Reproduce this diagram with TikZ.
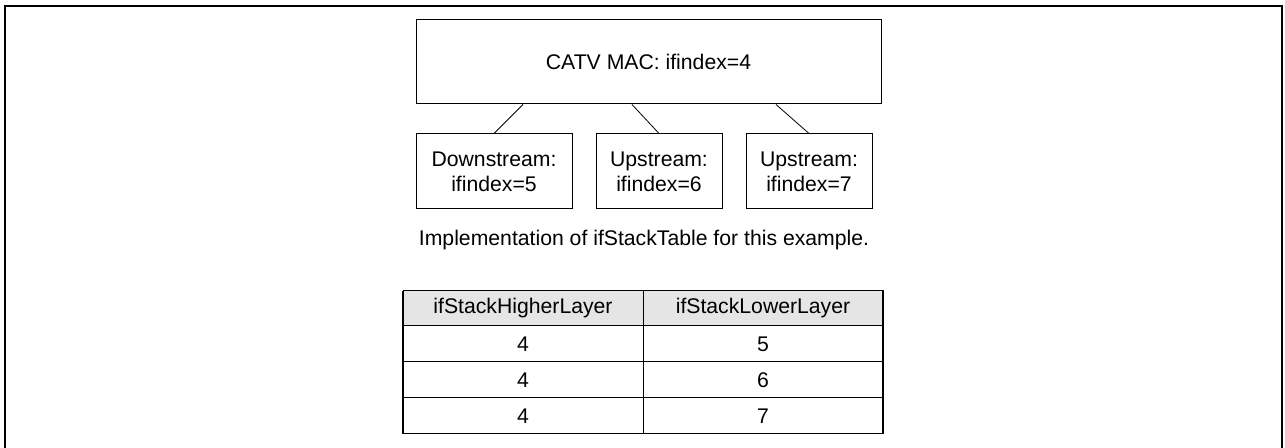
\documentclass[tikz,border=0pt]{standalone}
\usepackage{fontspec}
\setmainfont{Liberation Sans}
\usetikzlibrary{positioning}
\definecolor{hdrgray}{RGB}{229,229,229}

\begin{document}
\begin{tikzpicture}[
    x=0.5pt, y=-0.5pt,
    font=\fontsize{10.6}{12.5}\selectfont,
    ifbox/.style={draw, line width=0.5pt, align=center, inner sep=0pt},
    cell/.style={draw, line width=0.5pt, minimum width=120pt, minimum height=18pt,
        inner sep=0pt, outer sep=0pt},
    hdrcell/.style={cell, fill=hdrgray, minimum height=17.5pt},
    frameline/.style={line width=1pt}
    ]
    \useasboundingbox (0,0) rectangle (1285,448);
    \draw[frameline] (5,448) -- (5,6) -- (1282,6) -- (1282,448);

    % interface stack
    \node[ifbox, minimum width=232.5pt, minimum height=42pt] (mac) at (648.5,62) {CATV MAC: ifindex=4};
    \node[ifbox, minimum width=78pt, minimum height=37.5pt] (down) at (494,171.5) {Downstream:\\ifindex=5};
    \node[ifbox, minimum width=63pt, minimum height=37.5pt] (upA) at (659,171.5) {Upstream:\\ifindex=6};
    \node[ifbox, minimum width=63pt, minimum height=37.5pt] (upB) at (809,171.5) {Upstream:\\ifindex=7};

    \draw[line width=0.4pt] ([xshift=-62.75pt]mac.south) -- (down.north);
    \draw[line width=0.4pt] ([xshift=-8.25pt]mac.south) -- (upA.north);
    \draw[line width=0.4pt] ([xshift=63.75pt]mac.south) -- (upB.north);

    \node (caption) at (644,240) {Implementation of ifStackTable for this example.};

    % ifStackTable
    \node[hdrcell] (hHigh) at (523,308.5) {ifStackHigherLayer};
    \node[hdrcell, right=0pt of hHigh] (hLow) {ifStackLowerLayer};
    \node[cell, below=0pt of hHigh] (rA1) {4};
    \node[cell, below=0pt of hLow] (rA2) {5};
    \node[cell, below=0pt of rA1] (rB1) {4};
    \node[cell, below=0pt of rA2] (rB2) {6};
    \node[cell, below=0pt of rB1] (rC1) {4};
    \node[cell, below=0pt of rB2] (rC2) {7};

    \draw[line width=1.1pt] (hHigh.north west) -- (rC1.south west);
    \draw[line width=1.1pt] (hLow.north east) -- (rC2.south east);
\end{tikzpicture}
\end{document}
